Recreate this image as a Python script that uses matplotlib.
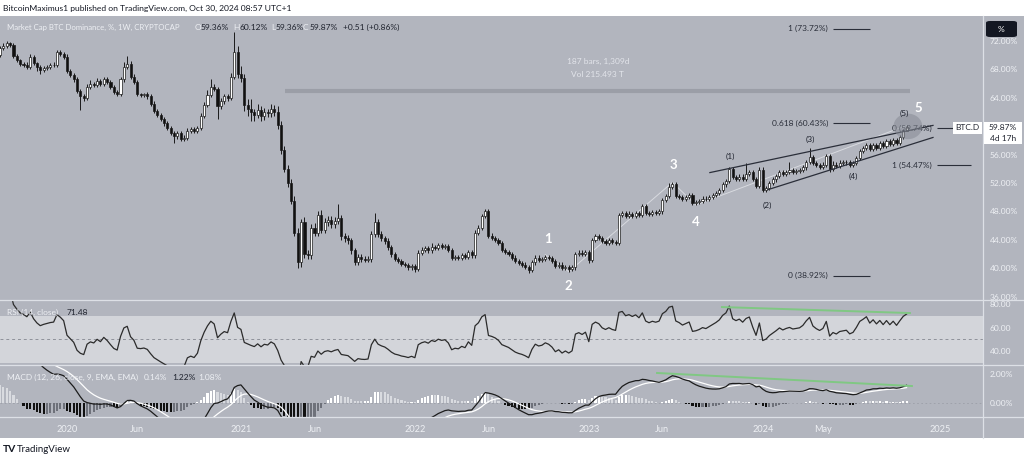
import numpy as np
import pandas as pd
import matplotlib
matplotlib.use("Agg")
import matplotlib.pyplot as plt
from matplotlib.patches import Rectangle, Ellipse, FancyBboxPatch
from matplotlib.lines import Line2D

FONT = "Lato"
plt.rcParams["font.family"] = [FONT, "DejaVu Sans"]

# ---------------- data (weekly BTC dominance, %) ----------------
start_date = "2019-08-19"
# estimated closes before the visible window (only used to warm up RSI / MACD)
warmup_closes = [52.8, 53.1, 52.9, 53.0, 52.6, 52.2, 51.7, 51.5, 51.6, 51.4,
                 51.2, 50.9, 51.0, 50.5, 51.8, 53.2, 54.5, 55.4, 56.0, 57.5,
                 56.8, 56.2, 57.3, 58.6, 60.2, 62.0, 63.5, 65.0, 66.2, 67.5,
                 68.8, 70.0]
closes = [
    71.0, 71.3, 71.7, 71.5, 69.9, 69.3, 68.8, 68.6, 68.3, 69.8,
    68.9, 68.3, 67.9, 68.2, 68.4, 68.6, 68.7, 70.5, 70.2, 69.8,
    67.8, 67.2, 66.6, 65.0, 64.3, 64.0, 65.6, 66.0, 65.8, 66.4,
    66.0, 66.7, 66.2, 65.5, 64.8, 64.5, 66.6, 68.4, 68.8, 67.0,
    66.3, 64.5, 64.4, 64.5, 64.2, 63.2, 62.2, 61.6, 61.0, 60.4,
    59.8, 59.0, 58.6, 59.0, 58.2, 58.4, 59.4, 59.6, 59.3, 59.8,
    61.5, 63.0, 64.4, 65.6, 65.2, 62.8, 63.6, 64.2, 64.0, 67.0,
    70.4, 67.3, 66.8, 63.0, 62.5, 62.0, 61.6, 62.3, 61.4, 62.0,
    61.8, 62.5, 62.0, 60.2, 56.7, 54.0, 52.0, 49.5, 45.0, 40.8,
    46.5, 42.0, 41.8, 45.7, 45.0, 47.5, 45.4, 46.5, 46.8, 46.2,
    46.7, 47.0, 44.5, 44.2, 43.9, 42.5, 40.9, 41.6, 41.3, 41.2,
    41.3, 44.8, 46.5, 44.8, 44.2, 43.8, 43.0, 42.0, 41.3, 41.0,
    40.6, 40.4, 40.1, 40.3, 39.9, 42.2, 42.6, 42.8, 42.5, 43.0,
    42.8, 43.2, 43.0, 43.1, 42.6, 41.4, 41.6, 41.5, 41.8, 41.6,
    42.3, 41.8, 45.0, 45.7, 47.3, 48.0, 44.5, 44.3, 44.0, 43.5,
    42.6, 42.3, 42.0, 41.5, 41.0, 40.7, 40.5, 40.2, 39.8, 40.8,
    41.5, 41.2, 41.3, 41.6, 41.4, 41.0, 40.3, 40.5, 40.0, 40.2,
    39.9, 40.1, 42.0, 42.2, 42.0, 42.3, 41.2, 44.0, 44.5, 44.3,
    43.8, 43.6, 43.9, 43.7, 43.6, 47.5, 47.8, 47.3, 47.6, 47.4,
    47.8, 47.5, 48.7, 47.8, 47.6, 47.9, 47.8, 48.0, 49.6, 50.2,
    51.5, 51.8, 50.2, 50.0, 49.7, 50.0, 50.3, 49.2, 49.3, 49.5,
    49.8, 49.7, 50.0, 50.3, 50.6, 51.0, 51.8, 52.3, 54.0, 52.8,
    52.6, 52.9, 52.6, 53.3, 53.6, 52.6, 51.6, 53.9, 51.0, 51.3,
    52.0, 52.5, 53.0, 53.6, 53.3, 53.6, 53.8, 53.6, 53.7, 53.8,
    54.2, 55.0, 55.7, 54.8, 54.5, 54.3, 54.6, 55.8, 54.0, 54.6,
    54.4, 54.8, 54.9, 55.0, 54.6, 54.8, 55.5, 56.5, 56.9, 57.4,
    56.8, 57.4, 57.0, 57.6, 57.2, 57.9, 57.5, 58.1, 57.7, 58.5,
    59.36, 59.87]
# wick lengths in tenths of a percentage point
wick_up = [
    3, 4, 3, 2, 3, 3, 2, 3, 4, 4,   3, 2, 3, 3, 2, 3, 3, 2, 3, 3,
    4, 3, 3, 3, 3, 3, 4, 5, 3, 4,   3, 3, 3, 3, 3, 3, 4, 6, 11, 4,
    3, 2, 2, 2, 3, 3, 3, 3, 3, 3,   3, 3, 3, 3, 3, 3, 3, 3, 3, 3,
    4, 4, 7, 10, 4, 3, 4, 4, 4, 5,  29, 9, 12, 6, 8, 14, 5, 9, 5, 6,
    5, 7, 5, 8, 5, 5, 5, 5, 6, 6,   4, 7, 5, 5, 6, 5, 7, 6, 5, 6,
    5, 20, 5, 4, 5, 4, 4, 4, 4, 4,  4, 4, 13, 4, 4, 4, 4, 3, 3, 3,
    3, 3, 3, 3, 3, 3, 4, 3, 3, 5,   3, 3, 4, 3, 3, 3, 3, 3, 3, 3,
    3, 3, 4, 4, 4, 3, 4, 5, 3, 3,   3, 3, 3, 3, 3, 3, 3, 3, 3, 4,
    3, 3, 3, 3, 3, 3, 3, 3, 3, 3,   3, 3, 3, 3, 3, 3, 3, 3, 3, 3,
    3, 3, 3, 3, 3, 3, 3, 3, 4, 3,   3, 3, 3, 3, 3, 3, 3, 3, 3, 3,
    5, 3, 3, 3, 3, 3, 3, 3, 3, 3,   3, 3, 3, 3, 3, 3, 3, 3, 3, 3,
    3, 4, 3, 15, 3, 3, 3, 3, 3, 3,  3, 3, 3, 3, 3, 3, 12, 3, 3, 3,
    3, 3, 13, 3, 3, 3, 3, 3, 3, 5,  3, 5, 3, 3, 3, 3, 3, 3, 3, 3,
    3, 3, 3, 3, 3, 3, 3, 3, 3, 3,   3, 2.5]
wick_dn = [
    3, 3, 3, 3, 3, 3, 3, 3, 3, 3,   3, 5, 5, 3, 3, 3, 3, 3, 3, 3,
    3, 3, 3, 3, 20, 5, 3, 3, 3, 3,  3, 3, 3, 3, 3, 3, 3, 3, 3, 4,
    3, 3, 3, 3, 3, 3, 3, 3, 3, 3,   3, 3, 10, 4, 3, 3, 3, 3, 3, 3,
    3, 3, 3, 3, 3, 18, 4, 4, 4, 3,  4, 5, 5, 8, 10, 12, 8, 5, 7, 5,
    5, 5, 5, 6, 6, 5, 5, 5, 5, 8,   6, 6, 5, 5, 5, 5, 5, 5, 5, 5,
    5, 5, 5, 5, 5, 5, 4, 4, 4, 4,   4, 4, 4, 4, 4, 4, 4, 4, 3, 3,
    3, 3, 3, 3, 5, 3, 3, 3, 3, 3,   3, 3, 3, 3, 3, 3, 3, 3, 3, 3,
    3, 3, 3, 3, 3, 3, 3, 3, 3, 3,   3, 3, 3, 3, 3, 3, 3, 3, 5, 3,
    3, 3, 3, 3, 3, 3, 3, 3, 3, 3,   4, 3, 3, 3, 3, 3, 5, 3, 3, 3,
    3, 3, 3, 3, 3, 3, 3, 3, 3, 3,   3, 3, 3, 3, 3, 3, 3, 3, 3, 3,
    3, 3, 3, 3, 3, 3, 3, 3, 3, 3,   3, 3, 3, 3, 3, 3, 3, 3, 3, 3,
    3, 3, 3, 3, 3, 3, 3, 3, 3, 3,   3, 3, 3, 3, 3, 3, 3, 3, 3, 3,
    3, 3, 3, 3, 3, 3, 3, 3, 4, 3,   3, 3, 3, 3, 3, 3, 3, 3, 3, 3,
    3, 3, 3, 3, 3, 3, 3, 3, 3, 3,   3, 0]

tick_dates = ["2020-01-06", "2020-06-01", "2021-01-04", "2021-06-07", "2022-01-03",
              "2022-06-06", "2023-01-02", "2023-06-05", "2024-01-01", "2024-05-06",
              "2025-01-06"]
tick_labels = ["2020", "Jun", "2021", "Jun", "2022", "Jun", "2023", "Jun", "2024", "May", "2025"]
price_ticks = [36, 40, 44, 48, 52, 56, 60, 64, 68, 72]
rsi_ticks = [40, 60, 80]
macd_ticks = [0, 2]

# annotations
fib_a = [(1, 73.72), (0.618, 60.43), (0, 38.92)]
fib_b = [(0, 59.74), (1, 54.47)]
measure_level = 64.93
wave_labels = [("1", 163.8, 44.1), ("2", 169.8, 37.5), ("3", 201.2, 54.5),
               ("4", 208.0, 46.5), ("5", 274.4, 62.6)]
sub_labels = [("(1)", 218.2, 55.7), ("(2)", 229.3, 48.8), ("(3)", 242.1, 58.1),
              ("(4)", 255.0, 52.9), ("(5)", 270.4, 61.8)]
wave_points = [163, 170, 201, 208, 271]
wedge_upper = [(212.2, 53.47), (278.9, 60.12)]
wedge_lower = [(229.6, 51.07), (278.9, 58.42)]
rsi_trend = [(215.8, 77.4), (272.0, 72.3)]
macd_trend = [(196.4, 2.07), (272.6, 1.17)]

# ---------------- derived series ----------------
n = len(closes)
idx = np.arange(n)
c = np.array(closes)
o = np.array([warmup_closes[-1]] + closes[:-1])
hi = np.maximum(o, c) + np.array(wick_up) / 10.0
lo = np.minimum(o, c) - np.array(wick_dn) / 10.0

all_c = pd.Series(warmup_closes + closes, dtype=float)
delta = all_c.diff().fillna(0)
au = delta.clip(lower=0).ewm(alpha=1 / 14, adjust=False).mean()
ad = (-delta).clip(lower=0).ewm(alpha=1 / 14, adjust=False).mean()
rsi = (100 - 100 / (1 + au / ad)).values[-n:]
macd_all = all_c.ewm(span=12, adjust=False).mean() - all_c.ewm(span=26, adjust=False).mean()
sig_all = macd_all.ewm(span=9, adjust=False).mean()
hist_all = (macd_all - sig_all).values
macd = macd_all.values[-n:]
sig = sig_all.values[-n:]
hist = hist_all[-n:]
hist_prev = hist_all[-n - 1:-1]

t0 = pd.Timestamp(start_date)
tick_pos = [(pd.Timestamp(d) - t0).days / 7.0 for d in tick_dates]

# ---------------- figure layout (pixel based) ----------------
W, H = 1024, 457
BG = "#b2b5be"
BAND = "#d3d5da"
DARK = "#1e222d"
LIGHT = "#eef0f4"
FS = 6.0

fig = plt.figure(figsize=(W / 100, H / 100), dpi=100)
fig.patch.set_facecolor("white")


def fr(x0, y0, x1, y1):
    return [x0 / W, 1 - y1 / H, (x1 - x0) / W, (y1 - y0) / H]


bg_rect = Rectangle((0, 1 - 438 / H), 1, (438 - 16) / H, transform=fig.transFigure,
                    facecolor=BG, edgecolor="none", zorder=-10)
fig.add_artist(bg_rect)

XR = 983
ax_p = fig.add_axes(fr(0, 16, XR, 300))
ax_r = fig.add_axes(fr(0, 300, XR, 365))
ax_m = fig.add_axes(fr(0, 365, XR, 417))
xlim = (-0.03, 293.85)
for ax in (ax_p, ax_r, ax_m):
    ax.set_facecolor("none")
    ax.set_xlim(*xlim)
    for s in ax.spines.values():
        s.set_visible(False)
    ax.yaxis.tick_right()
    ax.tick_params(axis="y", length=0, pad=5, labelcolor=LIGHT, labelsize=FS)
    ax.tick_params(axis="x", length=0)
    ax.set_xticks([])

# separators
for y in (300, 365, 417):
    fig.add_artist(Line2D([0, 1], [1 - y / H] * 2, transform=fig.transFigure,
                          color="#dde0e6", lw=0.9, zorder=1))
fig.add_artist(Line2D([XR / W] * 2, [1 - 16 / H, 1 - 438 / H], transform=fig.transFigure,
                      color="#dde0e6", lw=0.9, zorder=1))

# ---------------- price pane ----------------
ax_p.set_ylim(35.51, 75.54)
ax_p.set_yticks(price_ticks)
ax_p.set_yticklabels([f"{v:.2f}%" for v in price_ticks])

up = c >= o
ax_p.vlines(idx, lo, hi, color="#1a1a1a", lw=0.7, zorder=2)
body_h = np.maximum(np.abs(c - o), 0.07)
ax_p.bar(idx, body_h, bottom=np.minimum(o, c), width=0.62,
         color=np.where(up, "#ffffff", "#111111"), edgecolor="#1a1a1a", linewidth=0.5, zorder=3)

# measure tool
ax_p.hlines(measure_level, 85.2, 272.0, color="#9b9ea7", lw=3, zorder=1)
ax_p.text(178.7, 69.2, "187 bars, 1,309d", ha="center", va="center", fontsize=FS, color="#e2e4ea")
ax_p.text(178.7, 67.35, "Vol 215.493 T", ha="center", va="center", fontsize=FS, color="#e2e4ea")

# fib levels
for lvl, val in fib_a:
    ax_p.text(247.5, val, f"{lvl:g} ({val:.2f}%)", ha="right", va="center", fontsize=FS, color="#2a2e39")
    ax_p.hlines(val, 249.0, 260.1, color="#2a2e39", lw=0.8)
for (lvl, val), xe in zip(fib_b, (284.9, 290.3)):
    ax_p.text(278.6, val, f"{lvl:g} ({val:.2f}%)", ha="right", va="center", fontsize=FS, color="#2a2e39")
    ax_p.hlines(val, 280.1, xe, color="#2a2e39", lw=0.8)

# wedge
for (x0, y0), (x1, y1) in (wedge_upper, wedge_lower):
    ax_p.plot([x0, x1], [y0, y1], color="#2a2e39", lw=0.9, zorder=4)

# elliott wave path (faint)
wp_y = [hi[wave_points[0]], lo[wave_points[1]], hi[wave_points[2]], lo[wave_points[3]], hi[wave_points[4]]]
ax_p.plot(wave_points, wp_y, color="#e8eaee", lw=0.7, alpha=0.7, zorder=1.5)

for t, x, y in wave_labels:
    ax_p.text(x, y, t, ha="center", va="center", fontsize=9.5, color="white", fontweight="bold", zorder=6)
for t, x, y in sub_labels:
    ax_p.text(x, y, t, ha="center", va="center", fontsize=FS, color="#1e222d", zorder=6)

ax_p.add_patch(Ellipse((271.4, 59.98), 8.6, 3.6, facecolor="#878b95", alpha=0.55,
                       edgecolor="none", zorder=5))

# legend texts
fig.text(7 / W, 1 - 27 / H, "Market Cap BTC Dominance, %, 1W, CRYPTOCAP", fontsize=5.6,
         color=LIGHT, va="center", ha="left")
legend_parts = [("O", 195, LIGHT), ("59.36%", 201, DARK), ("H", 233, LIGHT), ("60.12%", 240, DARK),
                ("L", 271, LIGHT), ("59.36%", 276, DARK), ("C", 303, LIGHT), ("59.87%", 310, DARK),
                ("+0.51 (+0.86%)", 343, DARK)]
for t, x, col in legend_parts:
    fig.text(x / W, 1 - 27 / H, t, fontsize=FS, color=col, va="center", ha="left")

# header
fig.text(3 / W, 1 - 8 / H, "BitcoinMaximus1 published on TradingView.com, Oct 30, 2024 08:57 UTC+1",
         fontsize=6.1, color="#131722", va="center", ha="left")

# "%" button
fig.add_artist(FancyBboxPatch((986 / W, 1 - 37 / H), 31 / W, 16 / H, transform=fig.transFigure,
                              boxstyle="round,pad=0,rounding_size=0.004", facecolor="#131722",
                              edgecolor="none", zorder=10))
fig.text(1001.5 / W, 1 - 29 / H, "%", fontsize=6, color="white", ha="center", va="center", zorder=11)

# BTC.D label + price label
fig.add_artist(Rectangle((953 / W, 1 - 134 / H), 29 / W, 12 / H, transform=fig.transFigure,
                         facecolor="white", edgecolor="none", zorder=10))
fig.text(967.5 / W, 1 - 128 / H, "BTC.D", fontsize=FS, color=DARK, ha="center", va="center", zorder=11)
fig.add_artist(Rectangle((984 / W, 1 - 144 / H), 38 / W, 22 / H, transform=fig.transFigure,
                         facecolor="white", edgecolor="none", zorder=10))
fig.text(1003 / W, 1 - 128 / H, "59.87%", fontsize=FS, color=DARK, ha="center", va="center", zorder=11)
fig.text(1003 / W, 1 - 138.5 / H, "4d 17h", fontsize=FS, color=DARK, ha="center", va="center", zorder=11)

# ---------------- RSI pane ----------------
ax_r.set_ylim(28.1, 83.4)
ax_r.axhspan(30, 70, color=BAND, zorder=0, lw=0)
ax_r.axhline(50, color="#8e919a", lw=0.7, ls=(0, (3, 3)), zorder=1)
ax_r.plot(idx, rsi, color="#2b2b2b", lw=0.9, zorder=3)
ax_r.plot([p[0] for p in rsi_trend], [p[1] for p in rsi_trend], color="#80c883", lw=1.4, zorder=4)
ax_r.set_yticks(rsi_ticks)
ax_r.set_yticklabels([f"{v:.2f}" for v in rsi_ticks])
ax_r.text(0.007, 0.81, "RSI (14, close)", transform=ax_r.transAxes, fontsize=FS, color=LIGHT,
          va="center", ha="left", zorder=6)
ax_r.text(67 / XR, 0.81, "71.48", transform=ax_r.transAxes, fontsize=FS, color=DARK,
          va="center", ha="left", zorder=6)

# ---------------- MACD pane ----------------
ax_m.set_ylim(-0.966, 2.62)
ax_m.axhline(0, color="#9c9fa8", lw=0.6, ls=(0, (2, 3)), zorder=0)
hcol = np.where(hist >= 0, np.where(hist >= hist_prev, "#ffffff", "#d9dbe0"),
                np.where(hist < hist_prev, "#111111", "#6e717a"))
ax_m.bar(idx, hist, width=0.62, color=hcol, zorder=2, lw=0)
ax_m.plot(idx, sig, color="white", lw=0.9, zorder=3)
ax_m.plot(idx, macd, color="#1c1c1c", lw=0.9, zorder=4)
ax_m.plot([p[0] for p in macd_trend], [p[1] for p in macd_trend], color="#80c883", lw=1.4, zorder=5)
ax_m.set_yticks(macd_ticks)
ax_m.set_yticklabels([f"{v:.2f}%" for v in macd_ticks])
macd_parts = [("MACD (12, 26, close, 9, EMA, EMA)", 7, LIGHT), ("0.14%", 144, LIGHT),
              ("1.22%", 172, DARK), ("1.08%", 198, LIGHT)]
for t, x, col in macd_parts:
    fig.text(x / W, 1 - 377 / H, t, fontsize=FS, color=col, va="center", ha="left", zorder=6)

ax_m.set_xticks(tick_pos)
ax_m.set_xticklabels(tick_labels)
ax_m.tick_params(axis="x", length=0, pad=6, labelcolor=LIGHT, labelsize=6.6)

# footer logo
fig.text(3 / W, 1 - 450 / H, "TV", fontsize=7.5, color="#131722", fontweight="bold", va="center", ha="left")
fig.text(17 / W, 1 - 450 / H, "TradingView", fontsize=7, color="#131722", va="center", ha="left")

fig.savefig("out.png", dpi=100, facecolor="white")
